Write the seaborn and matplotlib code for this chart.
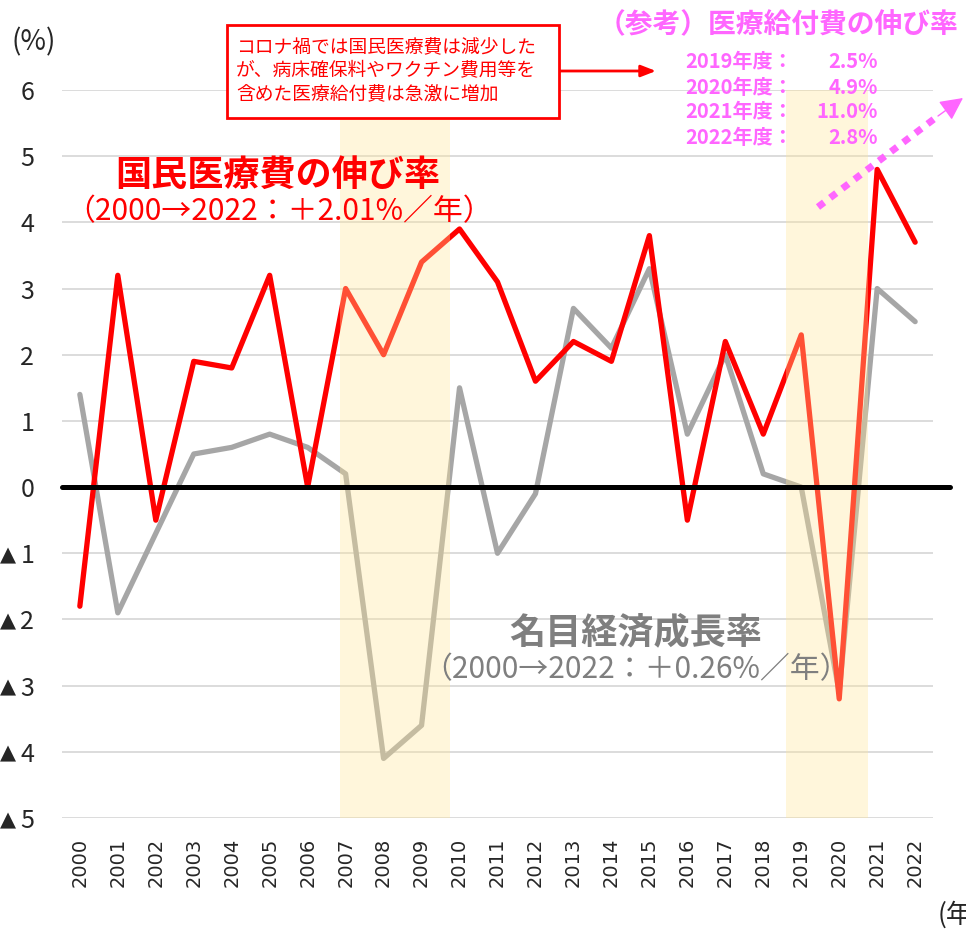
import pandas as pd
import seaborn as sns
import matplotlib.pyplot as plt
import matplotlib.transforms as mtransforms
from matplotlib.patches import Rectangle
from matplotlib.lines import Line2D

years = list(range(2000, 2023))
medical_growth = [-1.8, 3.2, -0.5, 1.9, 1.8, 3.2, 0.0, 3.0, 2.0, 3.4, 3.9, 3.1,
                  1.6, 2.2, 1.9, 3.8, -0.5, 2.2, 0.8, 2.3, -3.2, 4.8, 3.7]
gdp_growth = [1.4, -1.9, -0.7, 0.5, 0.6, 0.8, 0.6, 0.2, -4.1, -3.6, 1.5, -1.0,
              -0.1, 2.7, 2.1, 3.3, 0.8, 2.0, 0.2, 0.0, -3.1, 3.0, 2.5]
shade_spans = [(2006.85, 2009.75), (2018.6, 2020.75)]
benefit_labels = ['2019年度：', '2020年度：', '2021年度：', '2022年度：']
benefit_values = ['2.5%', '4.9%', '11.0%', '2.8%']
ytick_vals = list(range(-5, 7))
ytick_labels = [str(abs(v)) for v in ytick_vals]

df = pd.DataFrame({'year': years, 'medical': medical_growth, 'gdp': gdp_growth})

sns.set_style('white')
plt.rcParams['font.family'] = ['Noto Sans CJK JP', 'DejaVu Sans']

W, H = 966, 932
fig = plt.figure(figsize=(W / 100, H / 100), dpi=100)
ax = fig.add_axes([62 / W, 1 - 818 / H, 871 / W, 728 / H])


def fx(px):
    return px / W


def fy(py):
    return 1 - py / H


RED = '#FF0000'
GRAY = '#A6A6A6'
PINK = '#FF66FF'
TXTGRAY = '#7F7F7F'

sns.lineplot(data=df, x='year', y='gdp', color=GRAY, linewidth=3.8, ax=ax, zorder=3)
sns.lineplot(data=df, x='year', y='medical', color=RED, linewidth=3.8, ax=ax, zorder=4)
for a, b in shade_spans:
    ax.axvspan(a, b, color='#FFE699', alpha=0.35, lw=0, zorder=5)
ax.axhline(0, xmin=0, xmax=1.02, color='black', linewidth=3.6, zorder=6, clip_on=False)

ax.set_xlim(1999.53, 2022.47)
ax.set_ylim(-5, 6)
ax.set_xticks(years)
ax.set_xticklabels([str(y) for y in years], rotation=90, fontsize=14,
                   family='DejaVu Sans', va='top')
ax.set_yticks(ytick_vals)
ax.set_yticklabels(ytick_labels, fontsize=18)
ax.tick_params(axis='x', length=0, pad=14)
ax.tick_params(axis='y', length=0, pad=20)
ax.yaxis.grid(True, color='#D9D9D9', linewidth=1.3, zorder=0)
ax.xaxis.grid(False)
ax.set_xlabel('')
ax.set_ylabel('')
for s in ax.spines.values():
    s.set_visible(False)

# negative marks (▲) in front of the negative tick labels
tri_tr = mtransforms.blended_transform_factory(fig.transFigure, ax.transData)
for v in ytick_vals:
    if v < 0:
        ax.text(fx(0), v - 0.03, '▲', transform=tri_tr, fontsize=15, family='DejaVu Sans',
                ha='left', va='center', clip_on=False)

fig.text(fx(11), fy(42), '(%)', fontsize=20, ha='left', va='center')
fig.text(fx(938), fy(915), '(年度)', fontsize=19, ha='left', va='center')

# callout box
fig.patches.append(Rectangle((fx(227), fy(118)), fx(559) - fx(227), fy(25) - fy(118),
                             transform=fig.transFigure, fc='white', ec=RED, lw=2, zorder=10))
fig.text(fx(236), fy(71),
         'コロナ禍では国民医療費は減少した\nが、病床確保料やワクチン費用等を\n含めた医療給付費は急激に増加',
         color=RED, fontsize=13.5, ha='left', va='center', linespacing=1.15, zorder=11)
ax.annotate('', xy=(fx(656), fy(71)), xytext=(fx(559), fy(71)),
            xycoords='figure fraction', textcoords='figure fraction',
            arrowprops=dict(arrowstyle='-|>,head_length=0.9,head_width=0.35',
                            color=RED, lw=2, shrinkA=0, shrinkB=0))

# reference: medical benefit growth
fig.text(fx(598), fy(25), '（参考）医療給付費の伸び率', color=PINK, fontsize=20,
         fontweight='bold', ha='left', va='center')
for i, (lab, val) in enumerate(zip(benefit_labels, benefit_values)):
    yy = fy(62 + i * 25)
    fig.text(fx(685), yy, lab, color=PINK, fontsize=14.5, fontweight='bold',
             ha='left', va='center')
    fig.text(fx(878), yy, val, color=PINK, fontsize=14.5, fontweight='bold',
             ha='right', va='center')
fig.add_artist(Line2D([fx(818), fx(938)], [fy(207), fy(116)], transform=fig.transFigure,
                      color=PINK, lw=5, linestyle=(0, (1.1, 1.1)), solid_capstyle='butt'))
ax.annotate('', xy=(fx(963), fy(98)), xytext=(fx(938), fy(116)),
            xycoords='figure fraction', textcoords='figure fraction',
            arrowprops=dict(arrowstyle='-|>,head_length=1.4,head_width=0.7',
                            color=PINK, lw=1, shrinkA=0, shrinkB=0))

# series labels
fig.text(fx(278), fy(175), '国民医療費の伸び率', color=RED, fontsize=26,
         fontweight='bold', ha='center', va='center', zorder=12)
fig.text(fx(279), fy(212), '（2000→2022：＋2.01%／年）', color=RED, fontsize=21.5,
         ha='center', va='center', zorder=12)
fig.text(fx(636), fy(633), '名目経済成長率', color=TXTGRAY, fontsize=26,
         fontweight='bold', ha='center', va='center', zorder=12)
fig.text(fx(636), fy(670), '（2000→2022：＋0.26%／年）', color=TXTGRAY, fontsize=21.5,
         ha='center', va='center', zorder=12)

fig.savefig('out.png', dpi=100)
